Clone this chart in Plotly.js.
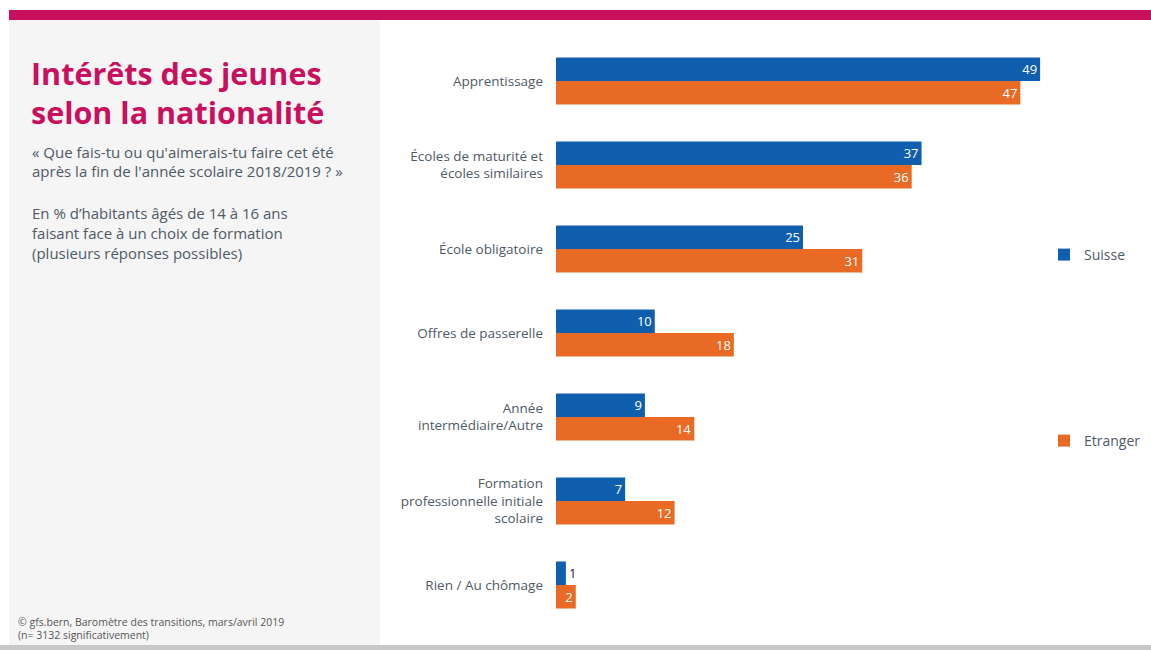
<!DOCTYPE html>
<html>
<head>
<meta charset="utf-8">
<script src="https://cdn.plot.ly/plotly-3.0.1.min.js"></script>
<style>html,body{margin:0;padding:0;background:#fff;}#chart{width:1151px;height:650px;}</style>
</head>
<body>
<div id="chart"></div>
<script>
const categories = [
  'Apprentissage',
  'Écoles de maturité et<br>écoles similaires',
  'École obligatoire',
  'Offres de passerelle',
  'Année<br>intermédiaire/Autre',
  'Formation<br>professionnelle initiale<br>scolaire',
  'Rien / Au chômage'
];
const seriesNames = ['Suisse', 'Etranger'];
const suisse = [49, 37, 25, 10, 9, 7, 1];
const etranger = [47, 36, 31, 18, 14, 12, 2];

const W = 1151, H = 650;
const px = x => x / W;
const py = y => 1 - y / H;
const FONT = 'Open Sans, Noto Sans, sans-serif';
const GREY = '#4e5a66';

function barTrace(name, vals, color, legendId) {
  return {
    type: 'bar', orientation: 'h', name: name,
    y: categories, x: vals,
    marker: {color: color},
    text: vals.map(String),
    textposition: vals.map(v => v < 2 ? 'outside' : 'inside'),
    insidetextanchor: 'end',
    textangle: 0,
    constraintext: 'none',
    cliponaxis: false,
    insidetextfont: {color: '#ffffff', size: 13, family: FONT},
    outsidetextfont: {color: '#222222', size: 13, family: FONT},
    legend: legendId,
    hoverinfo: 'x+name'
  };
}

const data = [
  barTrace(seriesNames[0], suisse, '#0f5fae', 'legend'),
  barTrace(seriesNames[1], etranger, '#e86a24', 'legend2')
];

const ann = (text, x, y, size, color, extra) => Object.assign({
  text: text, xref: 'paper', yref: 'paper', x: px(x), y: py(y),
  xanchor: 'left', yanchor: 'middle', showarrow: false,
  font: {family: FONT, size: size, color: color}, align: 'left'
}, extra || {});

const layout = {
  width: W, height: H,
  margin: {l: 0, r: 0, t: 0, b: 0},
  paper_bgcolor: '#ffffff', plot_bgcolor: 'rgba(0,0,0,0)',
  barmode: 'group', bargap: 0.44, bargroupgap: 0,
  showlegend: true,
  xaxis: {
    domain: [px(556), px(1050)], range: [0, 50],
    visible: false, fixedrange: true
  },
  yaxis: {
    domain: [py(627), py(39)], autorange: 'reversed',
    showgrid: false, zeroline: false, showline: false, ticks: '',
    ticklabelstandoff: 12,
    tickfont: {family: FONT, size: 13.5, color: GREY},
    automargin: false, fixedrange: true
  },
  legend: {
    x: px(1044), y: py(255), xanchor: 'left', yanchor: 'middle',
    bgcolor: 'rgba(0,0,0,0)', itemwidth: 30,
    font: {family: FONT, size: 14, color: GREY}
  },
  legend2: {
    x: px(1044), y: py(441), xanchor: 'left', yanchor: 'middle',
    bgcolor: 'rgba(0,0,0,0)', itemwidth: 30,
    font: {family: FONT, size: 14, color: GREY}
  },
  shapes: [
    {type: 'rect', xref: 'paper', yref: 'paper', x0: px(9), x1: px(380), y0: py(645), y1: py(20), fillcolor: '#f5f5f5', line: {width: 0}, layer: 'below'},
    {type: 'rect', xref: 'paper', yref: 'paper', x0: px(9), x1: 1, y0: py(20), y1: py(10), fillcolor: '#c8105e', line: {width: 0}, layer: 'below'},
    {type: 'rect', xref: 'paper', yref: 'paper', x0: 0, x1: 1, y0: 0, y1: py(645), fillcolor: '#c8c8c8', line: {width: 0}, layer: 'below'}
  ],
  annotations: [
    ann('<b>Intérêts des jeunes</b>', 29, 73, 30.5, '#c8105e'),
    ann('<b>selon la nationalité</b>', 29, 112, 30.5, '#c8105e'),
    ann('« Que fais-tu ou qu\'aimerais-tu faire cet été', 30, 152, 15, GREY),
    ann('après la fin de l\'année scolaire 2018/2019 ? »', 30, 171, 15, GREY),
    ann('En % d’habitants âgés de 14 à 16 ans', 30, 213, 15, GREY),
    ann('faisant face à un choix de formation', 30, 233, 15, GREY),
    ann('(plusieurs réponses possibles)', 30, 253, 15, GREY),
    ann('© gfs.bern, Baromètre des transitions, mars/avril 2019', 16, 622, 10.5, '#555555'),
    ann('(n= 3132 significativement)', 16, 635, 10.5, '#555555')
  ]
};

Plotly.newPlot('chart', data, layout, {displayModeBar: false, staticPlot: true});
</script>
</body>
</html>
